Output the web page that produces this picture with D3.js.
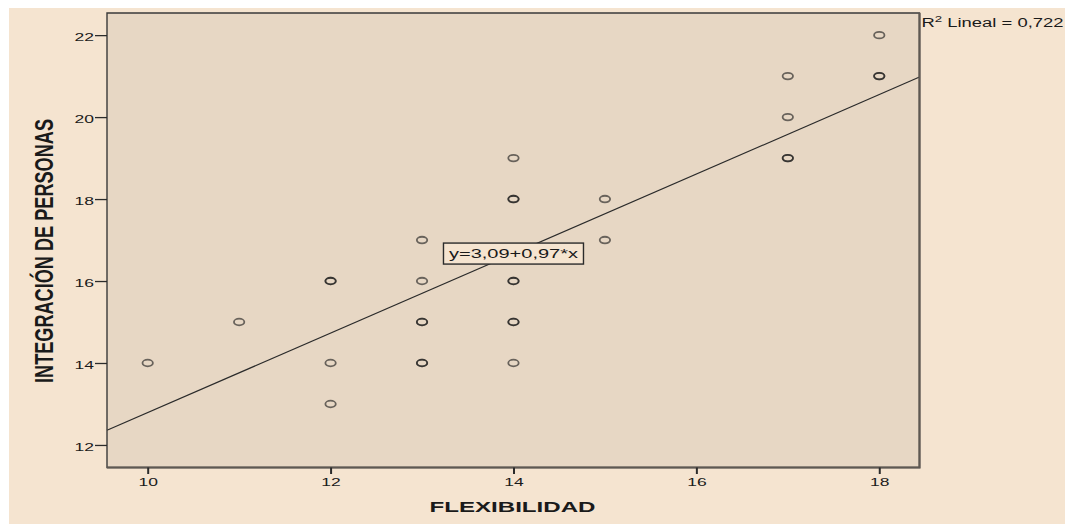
<!DOCTYPE html>
<html>
<head>
<meta charset="utf-8">
<script src="https://cdn.jsdelivr.net/npm/d3@7"></script>
<style>
  html, body { margin: 0; padding: 0; background: #ffffff; }
  svg { display: block; }
  text { font-family: "Liberation Sans", Arial, sans-serif; fill: #1a1a1a; }
</style>
</head>
<body>
<svg id="chart" width="1065" height="524"></svg>
<script>
// Observations: FLEXIBILIDAD (x) vs INTEGRACIÓN DE PERSONAS (y)
const flexibilidad = [10, 11, 12, 12, 12, 12, 13, 13, 13, 13, 13, 13, 14, 14, 14, 14, 14, 14, 14, 14, 15, 15, 17, 17, 17, 17, 18, 18, 18];
const integracion  = [14, 15, 16, 16, 14, 13, 17, 16, 15, 15, 14, 14, 19, 18, 18, 16, 16, 15, 15, 14, 18, 17, 21, 20, 19, 19, 22, 21, 21];

// Linear fit shown on the chart
const intercept = 3.09;
const slope = 0.97;
const rSquared = "0,722";
const equationLabel = "y=3,09+0,97*x";

const xTicks = [10, 12, 14, 16, 18];
const yTicks = [12, 14, 16, 18, 20, 22];
const xTitle = "FLEXIBILIDAD";
const yTitle = "INTEGRACIÓN DE PERSONAS";

const svg = d3.select("#chart");
const W = 1065, H = 524;
const plot = { left: 107, top: 13, right: 919.5, bottom: 467.5 };

// widen text horizontally by factor k
function stretch(sel, k) {
  sel.each(function () {
    const w = this.getComputedTextLength();
    d3.select(this).attr("textLength", w * k).attr("lengthAdjust", "spacingAndGlyphs");
  });
}

// page background
svg.append("rect").attr("x", 9).attr("y", 8).attr("width", W - 9).attr("height", H - 8)
  .attr("fill", "#f5e4d0");

const x = d3.scaleLinear().domain([9.555, 18.44]).range([plot.left, plot.right]);
const y = d3.scaleLinear().domain([11.45, 22.54]).range([plot.bottom, plot.top]);

// plot panel
svg.append("rect")
  .attr("x", plot.left).attr("y", plot.top)
  .attr("width", plot.right - plot.left).attr("height", plot.bottom - plot.top)
  .attr("fill", "#e7d7c4");

// fit line across the panel
const [dx0, dx1] = x.domain();
svg.append("line")
  .attr("x1", x(dx0)).attr("y1", y(intercept + slope * dx0))
  .attr("x2", x(dx1)).attr("y2", y(intercept + slope * dx1))
  .attr("stroke", "#2b2b2b").attr("stroke-width", 1.2);

// points
const pts = flexibilidad.map((v, i) => ({ fx: v, iy: integracion[i] }));
svg.append("g").selectAll("ellipse").data(pts).join("ellipse")
  .attr("cx", d => x(d.fx)).attr("cy", d => y(d.iy))
  .attr("rx", 5.2).attr("ry", 3.3)
  .attr("fill", "none")
  .attr("stroke", "#1a1a1a").attr("stroke-opacity", 0.62).attr("stroke-width", 1.8);

// frame
svg.append("path")
  .attr("d", `M${plot.left},${plot.top}H${plot.right}V${plot.bottom}H${plot.left}Z`)
  .attr("fill", "none").attr("stroke", "#3a3a3a").attr("stroke-width", 1.4);
svg.append("path")
  .attr("d", `M${plot.right},${plot.top}V${plot.bottom}H${plot.left}`)
  .attr("fill", "none").attr("stroke", "#5e5852").attr("stroke-width", 2.2);

// y axis
const gy = svg.append("g").attr("transform", `translate(${plot.left},0)`)
  .call(d3.axisLeft(y).tickValues(yTicks).tickSize(12).tickPadding(1).tickFormat(d3.format("d")));
gy.select(".domain").remove();
gy.selectAll(".tick line").attr("stroke", "#2b2b2b").attr("stroke-width", 1.3);
gy.selectAll(".tick text").attr("font-size", 11.5).attr("dy", "0.45em")
  .attr("font-family", "Liberation Sans, Arial, sans-serif").attr("fill", "#2a2a2a");
stretch(gy.selectAll(".tick text"), 1.52);

// x axis
const gx = svg.append("g").attr("transform", `translate(0,${plot.bottom})`)
  .call(d3.axisBottom(x).tickValues(xTicks).tickSize(6.5).tickPadding(4).tickFormat(d3.format("d")));
gx.select(".domain").remove();
gx.selectAll(".tick line").attr("stroke", "#2b2b2b").attr("stroke-width", 2);
gx.selectAll(".tick text").attr("font-size", 11.5)
  .attr("font-family", "Liberation Sans, Arial, sans-serif").attr("fill", "#2a2a2a");
stretch(gx.selectAll(".tick text"), 1.52);

// axis titles
const xt = svg.append("text")
  .attr("x", 512.5).attr("y", 512.3).attr("text-anchor", "middle")
  .attr("font-size", 15).attr("font-weight", "bold").attr("fill", "#111")
  .text(xTitle);
xt.attr("textLength", 166).attr("lengthAdjust", "spacingAndGlyphs");

svg.append("text")
  .attr("transform", "translate(53,251) scale(1.48,1) rotate(-90)")
  .attr("text-anchor", "middle")
  .attr("font-size", 17).attr("font-weight", "bold").attr("fill", "#111")
  .attr("textLength", 264).attr("lengthAdjust", "spacingAndGlyphs")
  .text(yTitle);

// equation label centred on the fit line
const ex = 14, ey = intercept + slope * ex;
const eqG = svg.append("g").attr("transform", `translate(${x(ex)},${y(ey)})`);
eqG.append("rect").attr("x", -70).attr("y", -10.5).attr("width", 140).attr("height", 21)
  .attr("fill", "#f5e4d0").attr("stroke", "#2b2b2b").attr("stroke-width", 1.4);
eqG.append("text").attr("x", 0).attr("y", 4.8).attr("text-anchor", "middle")
  .attr("font-size", 12.5).attr("fill", "#1a1a1a")
  .attr("textLength", 129).attr("lengthAdjust", "spacingAndGlyphs")
  .text(equationLabel);

// R² annotation
const r2 = svg.append("text").attr("x", 921.5).attr("y", 26.5)
  .attr("font-size", 12.5).attr("fill", "#1a1a1a")
  .attr("textLength", 142).attr("lengthAdjust", "spacingAndGlyphs");
r2.append("tspan").text("R");
r2.append("tspan").attr("dy", -5).attr("font-size", 9).text("2");
r2.append("tspan").attr("dy", 5).text(" Lineal = " + rSquared);
</script>
</body>
</html>
